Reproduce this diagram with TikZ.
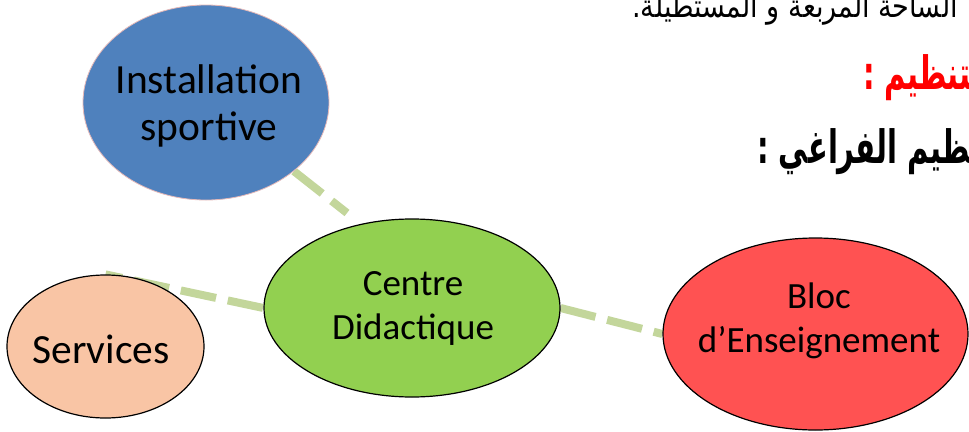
\documentclass[tikz,border=0pt]{standalone}
\usepackage{fontspec}
\setmainfont{Carlito}
\newfontfamily\arabicfont[Script=Arabic, FakeStretch=0.845]{DejaVu Sans}
\newfontfamily\arabicboldfont[Script=Arabic, FakeStretch=0.63]{DejaVu Sans}
\TeXXeTstate=1
\usetikzlibrary{shapes.geometric,backgrounds}
\definecolor{instblue}{HTML}{4F81BD}
\definecolor{instedge}{HTML}{E6B9B8}
\definecolor{servpeach}{HTML}{F9C5A5}
\definecolor{cengreen}{HTML}{92D050}
\definecolor{blocred}{HTML}{FF5252}
\definecolor{linkgreen}{HTML}{C3D69B}
\definecolor{titlered}{HTML}{FF0000}
\begin{document}
\begin{tikzpicture}[x=1pt,y=-1pt,
  oval/.style={ellipse, draw=black, line width=1.2pt, inner sep=0pt},
  bigtxt/.style={align=center, inner sep=0pt, font=\fontsize{41.5}{47}\selectfont},
  midtxt/.style={align=center, inner sep=0pt, font=\fontsize{37}{44}\selectfont},
  link/.style={draw=linkgreen, line width=8pt, dash pattern=on 36pt off 12pt},
  artxt/.style={inner sep=0pt}
]
\useasboundingbox (0,0) rectangle (969,431);
\clip (0,0) rectangle (969,431);

% ellipses
\node[oval, draw=instedge, line width=0.8pt, fill=instblue, minimum width=246pt, minimum height=195pt] (inst) at (206,102.5) {};
\node[oval, fill=servpeach, minimum width=197pt, minimum height=143pt] (serv) at (105.5,346.5) {};
\node[oval, fill=cengreen, minimum width=296pt, minimum height=178pt] (cen) at (412,308) {};
\node[oval, fill=blocred, minimum width=305pt, minimum height=192pt] (bloc) at (815.5,334) {};

% labels
\node[bigtxt] (instT) at (209,106) {Installation\\sportive};
\node[bigtxt] (servT) at (101,349.5) {Services};
\node[midtxt] (cenT) at (413,308.5) {Centre\\Didactique};
\node[midtxt] (blocT) at (819,321) {Bloc\\d’Enseignement};

\coordinate (instEnd) at (347,213);

% connectors
\begin{pgfonlayer}{background}
\fill[white] (0,0) rectangle (969,431);
\draw[link] (inst.-38.6) -- (instEnd);
\draw[link, dash phase=19pt] (serv.north) -- (cen.west);
\draw[link] (cen.east) -- (bloc.west);
\end{pgfonlayer}

% Arabic text
\node[artxt, anchor=base east] (line1) at (958,17) {\arabicfont\fontsize{32}{34}\selectfont\beginR الساحة المربعة و المستطيلة.\endR};
\node[artxt, anchor=base west, text=titlered] (line2) at (863,89) {\arabicboldfont\bfseries\fontsize{46}{50}\selectfont\beginR التنظيم :\endR};
\node[artxt, anchor=base west] (line3) at (757,163) {\arabicboldfont\bfseries\fontsize{46}{50}\selectfont\beginR التنظيم الفراغي :\endR};
\end{tikzpicture}
\end{document}
